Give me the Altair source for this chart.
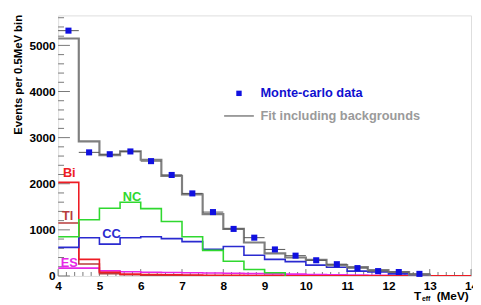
import altair as alt
import pandas as pd

# ---- data ----
bin_width = 0.5
x_start = 4.0

fit_vals = [5150, 2920, 2620, 2700, 2520, 2170, 1770, 1340, 1020, 725, 490, 400, 350, 235, 190, 125, 85, 30]
cc_vals = [620, 830, 690, 830, 850, 810, 745, 580, 640, 450, 360, 310, 235, 190, 105, 85, 45, 20]
nc_vals = [850, 1220, 1470, 1600, 1460, 1180, 850, 555, 320, 140, 70]
bi_vals = [2030, 360, 80, 40, 30, 25, 20, 15, 12, 10, 8, 6, 5, 5, 4, 4, 3, 3, 2, 2]
tl_vals = [1150, 260, 50, 25, 15, 10, 8, 6, 5, 4, 3, 2]
es_vals = [170, 170, 110, 90, 80, 75, 70, 65, 60, 50, 45, 40, 30, 25, 20, 15, 10, 5]

data_x = [4.25, 4.75, 5.25, 5.75, 6.25, 6.75, 7.25, 7.75, 8.25, 8.75, 9.25, 9.75,
          10.25, 10.75, 11.25, 11.75, 12.25, 12.75]
data_y = [5320, 2680, 2640, 2700, 2490, 2190, 1790, 1385, 1020, 830, 575, 440,
          340, 255, 170, 105, 85, 45]

series_names = ["ES", "Tl", "Bi", "CC", "NC", "Fit"]
series_colors = ["#e628e6", "#b83c3c", "#ee1c24", "#2a2ad0", "#2fd82f", "#7f7f7f"]
series_widths = [1.6, 1.6, 1.6, 1.6, 1.6, 2.2]

label_text = ["Bi", "Tl", "NC", "CC", "ES"]
label_x = [4.27, 4.23, 5.79, 5.29, 4.27]
label_y = [2230, 1290, 1720, 915, 280]
label_color = ["#ee1c24", "#b83c3c", "#2fd82f", "#2a2ad0", "#e628e6"]

y_major = [0, 1000, 2000, 3000, 4000, 5000]
y_minor = [v for v in range(0, 5601, 200) if v % 1000 != 0]
x_major = list(range(4, 15))
x_minor = [round(4 + 0.2 * i, 1) for i in range(51) if (i % 5) != 0]

# ---- build tables ----
def steps(name, vals):
    rows = []
    for i, v in enumerate(vals):
        rows.append({"series": name, "x": x_start + i * bin_width, "y": v, "i": i})
    rows.append({"series": name, "x": x_start + len(vals) * bin_width, "y": 0, "i": len(vals)})
    return rows

all_vals = {"ES": es_vals, "Tl": tl_vals, "Bi": bi_vals, "CC": cc_vals, "NC": nc_vals, "Fit": fit_vals}

FONT = "Liberation Sans"
xs = alt.Scale(domain=[4, 14], nice=False)
ys = alt.Scale(domain=[0, 5650], nice=False)
XA = alt.Axis(values=x_major, format="d", ticks=False, domain=False, grid=False,
              labelFont=FONT, labelFontWeight="bold", labelFontSize=12, labelColor="black",
              labelPadding=5, labelFlush=False, title=None)
YA = alt.Axis(values=y_major, format="d", ticks=False, domain=False, grid=False,
              labelFont=FONT, labelFontWeight="bold", labelFontSize=12, labelColor="black",
              labelPadding=3, title="Events per 0.5MeV bin", titleFont=FONT, titleFontWeight="bold",
              titleFontSize=11.5, titleColor="black", titleAnchor="end", titleX=-40, titleY=-1,
              titleAlign="right", titleAngle=270, titleBaseline="middle")


def X(f):
    return alt.X(f, scale=xs, axis=XA)


def Y(f):
    return alt.Y(f, scale=ys, axis=YA)


layers = []
for name, col, w in zip(series_names, series_colors, series_widths):
    df = pd.DataFrame(steps(name, all_vals[name]))
    layers.append(
        alt.Chart(df).mark_line(interpolate="step-after", color=col, strokeWidth=w, clip=True).encode(
            x=X("x:Q"), y=Y("y:Q"), order="i:Q")
    )

pts = pd.DataFrame({"x": data_x, "y": data_y,
                    "lo": [v - 0.25 for v in data_x], "hi": [v + 0.25 for v in data_x]})
err = alt.Chart(pts).mark_rule(color="#555555", strokeWidth=1).encode(
    x=X("lo:Q"), x2="hi:Q", y=Y("y:Q"))
sq = alt.Chart(pts).mark_square(size=38, color="#1010e0", opacity=1, filled=True).encode(
    x=X("x:Q"), y=Y("y:Q"))

labels = pd.DataFrame({"t": label_text, "x": label_x, "y": label_y, "c": label_color})
lab = alt.Chart(labels).mark_text(font=FONT, fontWeight="bold", fontSize=13).encode(
    x=X("x:Q"), y=Y("y:Q"), text="t:N", color=alt.Color("c:N", scale=None))

# legend (placed in data coordinates)
leg_sq = alt.Chart(pd.DataFrame({"x": [8.38], "y": [3960]})).mark_square(
    size=30, color="#1010e0", opacity=1).encode(x=X("x:Q"), y=Y("y:Q"))
leg_line = alt.Chart(pd.DataFrame({"x": [8.02], "x2": [8.74], "y": [3470]})).mark_rule(
    color="#7f7f7f", strokeWidth=1.5).encode(x=X("x:Q"), x2="x2:Q", y=Y("y:Q"))
leg_txt = alt.Chart(pd.DataFrame({
    "t": ["Monte-carlo data", "Fit including backgrounds"],
    "x": [8.9, 8.9], "y": [3960, 3470], "c": ["#1010d0", "#9a9a9a"]})).mark_text(
    font=FONT, fontWeight="bold", fontSize=13, align="left", baseline="middle").encode(
    x=X("x:Q"), y=Y("y:Q"), text="t:N", color=alt.Color("c:N", scale=None))

# inward tick marks
yaxis = alt.Chart(pd.DataFrame({"y": y_major})).mark_rule(color="#777777", strokeWidth=1).encode(
    y=Y("y:Q"), x=alt.value(0), x2=alt.value(12))
yminor = alt.Chart(pd.DataFrame({"y": y_minor})).mark_rule(color="#777777", strokeWidth=1).encode(
    y=Y("y:Q"), x=alt.value(0), x2=alt.value(6))
xaxis = alt.Chart(pd.DataFrame({"x": x_major})).mark_rule(color="#777777", strokeWidth=1).encode(
    x=X("x:Q"), y=alt.value(265), y2=alt.value(258))
xminor = alt.Chart(pd.DataFrame({"x": x_minor})).mark_rule(color="#777777", strokeWidth=1).encode(
    x=X("x:Q"), y=alt.value(265), y2=alt.value(261))

xtitle = alt.Chart(pd.DataFrame({
    "t": ["T", "eff", "(MeV)"], "px": [362, 370, 385], "py": [285, 288, 285],
    "s": [12, 7, 12]})).mark_text(font=FONT, fontWeight="bold", align="left", baseline="middle",
                                    color="black").encode(
    x=alt.X("px:Q", scale=None), y=alt.Y("py:Q", scale=None), text="t:N",
    size=alt.Size("s:Q", scale=None))

chart = alt.layer(
    yminor, xminor, yaxis, xaxis, *layers, err, sq, lab, leg_sq, leg_line, leg_txt, xtitle
).properties(
    width=420, height=265,
    autosize=alt.AutoSizeParams(type="none"),
    padding={"left": 51, "top": 5, "right": 2, "bottom": 27},
).configure_view(stroke="#808080", strokeWidth=1.5).configure(background="white")

chart.save("out.html", embed_options={"renderer": "svg", "actions": False})
